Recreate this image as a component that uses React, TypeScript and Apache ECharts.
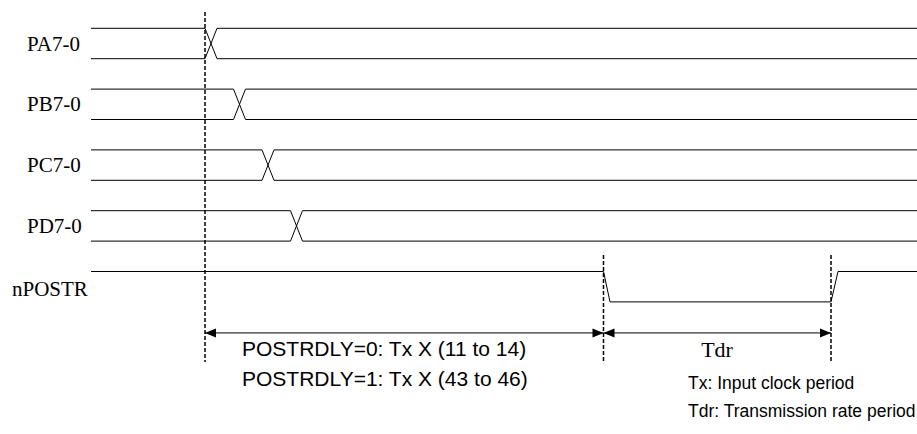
import React, { useEffect, useRef } from "react";
import * as echarts from "echarts";

// ---- data ----
const signals = ["PA7-0", "PB7-0", "PC7-0", "PD7-0", "nPOSTR"];
const busSignals = ["PA7-0", "PB7-0", "PC7-0", "PD7-0"];
const busTransitionStart = [205, 233.5, 262, 290.5];
const busTransitionWidth = 12;
const traceStart = 91;
const traceEnd = 917;
// nPOSTR: fall start, fall end, rise start, rise end
const strobeEdges = [603.5, 610, 831, 838];
// reference markers: [time, top row, bottom row]
const markerTimes = [205, 603.5, 831];
const markerTops = [-0.52, 3.48, 3.48];
const markerBottom = 5.24;
// interval arrows: [from, to]
const intervalFrom = [205, 603.5];
const intervalTo = [603.5, 831];
const intervalRow = 4.76;
const delayNotes = ["POSTRDLY=0: Tx X (11 to 14)", "POSTRDLY=1: Tx X (43 to 46)"];
const tdrLabel = "Tdr";
const legendNotes = ["Tx: Input clock period", "Tdr: Transmission rate period"];

// ---- layout ----
const W = 917;
const H = 434;
const ROW0 = 43.5;
const ROWSTEP = 60.8;
const AMP = 0.25;
const SERIF = "'Liberation Serif', 'Times New Roman', serif";
const SANS = "'Liberation Sans', Arial, sans-serif";
const LABEL_X = [27, 27, 27, 27, 12];
const LABEL_DY = [0, 0, 0, 0, 0.04];

export default function App() {
  const ref = useRef<HTMLDivElement>(null);
  useEffect(() => {
    document.body.style.margin = "0";
    const chart = echarts.init(ref.current!, null, { renderer: "svg" });

    const lineStyle = { color: "#000", width: 1 };
    const lineSeries: any[] = [];
    busSignals.forEach((name, i) => {
      const t = busTransitionStart[i];
      const hi = i - AMP;
      const lo = i + AMP;
      lineSeries.push({
        type: "line",
        name: name + "-a",
        data: [
          [traceStart, hi],
          [t, hi],
          [t + busTransitionWidth, lo],
          [traceEnd, lo],
        ],
        showSymbol: false,
        symbol: "none",
        lineStyle,
        silent: true,
      });
      lineSeries.push({
        type: "line",
        name: name + "-b",
        data: [
          [traceStart, lo],
          [t, lo],
          [t + busTransitionWidth, hi],
          [traceEnd, hi],
        ],
        showSymbol: false,
        symbol: "none",
        lineStyle,
        silent: true,
      });
    });
    const sr = 4;
    lineSeries.push({
      type: "line",
      name: "nPOSTR",
      data: [
        [traceStart, sr - AMP],
        [strobeEdges[0], sr - AMP],
        [strobeEdges[1], sr + AMP],
        [strobeEdges[2], sr + AMP],
        [strobeEdges[3], sr - AMP],
        [traceEnd, sr - AMP],
      ],
      showSymbol: false,
      symbol: "none",
      lineStyle,
      silent: true,
    });

    const labelSeries = {
      type: "custom",
      silent: true,
      data: signals.map((s, i) => [LABEL_X[i], i + LABEL_DY[i]]),
      renderItem: (params: any, api: any) => {
        const p = api.coord([api.value(0), api.value(1)]);
        return {
          type: "text",
          x: p[0],
          y: p[1],
          style: {
            text: signals[params.dataIndex],
            font: "21px " + SERIF,
            fill: "#000",
            align: "left",
            verticalAlign: "middle",
          },
        };
      },
    };

    const markerSeries = {
      type: "custom",
      silent: true,
      data: markerTimes.map((t, i) => [t, markerTops[i], markerBottom]),
      renderItem: (params: any, api: any) => {
        const a = api.coord([api.value(0), api.value(1)]);
        const b = api.coord([api.value(0), api.value(2)]);
        return {
          type: "line",
          shape: { x1: a[0], y1: a[1], x2: b[0], y2: b[1] },
          style: { stroke: "#000", lineWidth: 1.5, lineDash: [4, 2] },
        };
      },
    };

    const arrowSeries = {
      type: "custom",
      silent: true,
      data: intervalFrom.map((f, i) => [f, intervalTo[i], intervalRow]),
      renderItem: (params: any, api: any) => {
        const a = api.coord([api.value(0), api.value(2)]);
        const b = api.coord([api.value(1), api.value(2)]);
        const L = 11;
        const h = 4.5;
        return {
          type: "group",
          children: [
            {
              type: "line",
              shape: { x1: a[0], y1: a[1], x2: b[0], y2: b[1] },
              style: { stroke: "#000", lineWidth: 1 },
            },
            {
              type: "polygon",
              shape: {
                points: [
                  [a[0], a[1]],
                  [a[0] + L, a[1] - h],
                  [a[0] + L, a[1] + h],
                ],
              },
              style: { fill: "#000" },
            },
            {
              type: "polygon",
              shape: {
                points: [
                  [b[0], b[1]],
                  [b[0] - L, b[1] - h],
                  [b[0] - L, b[1] + h],
                ],
              },
              style: { fill: "#000" },
            },
          ],
        };
      },
    };

    const textItems: any[] = [
      ...delayNotes.map((t, i) => ({ t, x: 242, y: 5.016 + i * 0.486, font: "21px " + SANS, align: "left" })),
      { t: tdrLabel, x: 717, y: 5.04, font: "22px " + SERIF, align: "center" },
      ...legendNotes.map((t, i) => ({ t, x: 688, y: 5.58 + i * 0.47, font: "17.5px " + SANS, align: "left" })),
    ];
    const textSeries = {
      type: "custom",
      silent: true,
      data: textItems.map((d) => [d.x, d.y]),
      renderItem: (params: any, api: any) => {
        const d = textItems[params.dataIndex];
        const p = api.coord([api.value(0), api.value(1)]);
        return {
          type: "text",
          x: p[0],
          y: p[1],
          style: {
            text: d.t,
            font: d.font,
            fill: "#000",
            align: d.align,
            verticalAlign: "middle",
          },
        };
      },
    };

    chart.setOption({
      animation: false,
      backgroundColor: "#fff",
      grid: { left: 0, right: 0, top: 0, bottom: 0 },
      xAxis: { type: "value", min: 0, max: W, show: false },
      yAxis: {
        type: "value",
        inverse: true,
        min: -ROW0 / ROWSTEP,
        max: (H - ROW0) / ROWSTEP,
        show: false,
      },
      series: [...lineSeries, markerSeries, arrowSeries, labelSeries, textSeries],
    });
    return () => chart.dispose();
  }, []);
  return <div ref={ref} style={{ width: W, height: H }} />;
}
